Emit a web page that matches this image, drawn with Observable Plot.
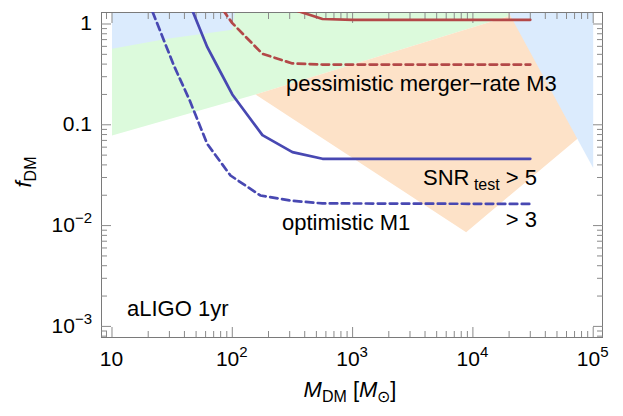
<!DOCTYPE html>
<html><head><meta charset="utf-8">
<script src="https://cdn.jsdelivr.net/npm/d3@7"></script>
<script src="https://cdn.jsdelivr.net/npm/@observablehq/plot@0.6"></script>
<style>body{margin:0;background:#fff} svg{display:block}</style>
</head><body><div id="chart"></div>
<script>
// ---- data ----
const blueSolidM = [40, 62, 75, 100, 178, 316, 562, 1000, 30000];
const blueSolidF = [2.12, 0.589, 0.383, 0.2, 0.079, 0.0535, 0.046, 0.046, 0.046];
const blueDashM = [20, 32.6, 44.3, 61.8, 96.6, 171, 305, 562, 30000];
const blueDashF = [1.7, 0.39, 0.174, 0.0648, 0.0314, 0.0199, 0.0177, 0.0166, 0.0164];
const redSolidM = [316, 562, 1000, 30000];
const redSolidF = [1.40, 1.12, 1.10, 1.10];
const redDashM = [56, 100, 178, 316, 562, 30000];
const redDashF = [2.7, 1.02, 0.506, 0.406, 0.396, 0.396];

const blueBandM = [10, 10, 28.8, 100, 105];
const blueBandF = [1.30, 0.568, 0.713, 0.876, 1.30];
const greenM = [10, 10, 156, 19800, 19800];
const greenF = [1.30, 0.0783, 0.2, 1.19, 1.30];
const orangeM = [156, 19800, 19800, 30000, 74000, 8790];
const orangeF = [0.2, 1.19, 1.30, 1.30, 0.0728, 0.0086];
const blueTriM = [19800, 1e5, 1e5];
const blueTriF = [1.30, 1.30, 0.0372];

const majorX = [10, 100, 1000, 1e4, 1e5];
const xTickBase = ["10", "10", "10", "10", "10"];
const xTickExp = ["", "2", "3", "4", "5"];
const majorY = [1e-3, 1e-2, 0.1, 1];
const yTickBase = ["10", "10", "0.1", "1"];
const yTickExp = ["\u22123", "\u22122", "", ""];
const minorX = [9];
for (const d of [10, 100, 1000, 10000]) for (let k = 2; k <= 9; k++) minorX.push(k * d);
const minorY = [8e-4, 9e-4];
for (const d of [1e-3, 1e-2, 0.1]) for (let k = 2; k <= 9; k++) minorY.push(+(k * d).toPrecision(3));

// ---- colours ----
const C = {blueLine: "#4848b2", redLine: "#b34848", band: "#dbebfd", green: "#dcfadc", orange: "#fde2c8", frame: "#7a7a7a", tick: "#8a8a8a"};
const FONT = "'Liberation Sans', Arial, sans-serif";

const rows = (M, F) => M.map((m, i) => ({m, f: F[i]}));
const poly = (M, F, fill) => Plot.line(rows(M, F), {x: "m", y: "f", fill, stroke: "none", clip: true});
const curve = (M, F, stroke, dash) => Plot.line(rows(M, F), {x: "m", y: "f", stroke, strokeWidth: 2.7, strokeDasharray: dash, clip: true});

const axes = [];
for (const anchor of ["bottom", "top"]) {
  axes.push(Plot.axisX({anchor, ticks: majorX, tickSize: -10, tickFormat: () => "", stroke: C.tick, label: null}));
  axes.push(Plot.axisX({anchor, ticks: minorX, tickSize: -6, tickFormat: () => "", stroke: C.tick, label: null}));
}
for (const anchor of ["left", "right"]) {
  axes.push(Plot.axisY({anchor, ticks: majorY, tickSize: -10, tickFormat: () => "", stroke: C.tick, label: null}));
  axes.push(Plot.axisY({anchor, ticks: minorY, tickSize: -6, tickFormat: () => "", stroke: C.tick, label: null}));
}

const plot = Plot.plot({
  width: 623, height: 416,
  marginLeft: 101, marginRight: 21, marginTop: 12, marginBottom: 79,
  x: {type: "log", domain: [8.18, 1.195e5]},
  y: {type: "log", domain: [7.76e-4, 1.30]},
  style: {fontFamily: FONT, background: "white"},
  marks: [
    poly(greenM, greenF, C.green),
    poly(blueBandM, blueBandF, C.band),
    poly(orangeM, orangeF, C.orange),
    poly(blueTriM, blueTriF, C.band),
    Plot.frame({stroke: C.frame}),
    ...axes,
    curve(redSolidM, redSolidF, C.redLine, null),
    curve(redDashM, redDashF, C.redLine, "7.5,4.5"),
    curve(blueSolidM, blueSolidF, C.blueLine, null),
    curve(blueDashM, blueDashF, C.blueLine, "7.5,4.5")
  ]
});
document.getElementById("chart").appendChild(plot);

// ---- rich text (sub/superscripts) placed through the plot's scales ----
const sx = plot.scale("x"), sy = plot.scale("y");
const svg = d3.select(plot);
function rich(x, y, parts, {anchor = "start", size = 22, small = 16, rotate = 0} = {}) {
  const t = svg.append("text").attr("x", x).attr("y", y).attr("text-anchor", anchor)
    .attr("font-family", FONT).attr("font-size", size).attr("fill", "#000");
  if (rotate) t.attr("transform", `rotate(${rotate},${x},${y})`);
  let off = 0;
  for (const p of parts) {
    if (!p.t) continue;
    const target = p.sub ? 5 : p.sup ? -9 : 0;
    const s = t.append("tspan").text(p.t).attr("dy", target - off);
    if (p.sub || p.sup) s.attr("font-size", small);
    if (p.italic) s.attr("font-style", "italic");
    off = target;
  }
  return t;
}
// x tick labels
majorX.forEach((v, i) => rich(sx.apply(v), 366, [{t: xTickBase[i]}, {t: xTickExp[i], sup: true}], {anchor: "middle", size: 21, small: 15}));
// y tick labels
majorY.forEach((v, i) => rich(92, sy.apply(v) + 7, [{t: yTickBase[i]}, {t: yTickExp[i], sup: true}], {anchor: "end", size: 21, small: 15}));
// axis titles
rich(350, 397, [{t: "M", italic: true}, {t: "DM", sub: true}, {t: " ["}, {t: "M", italic: true}, {t: "\u2299", sub: true}, {t: "]"}], {anchor: "middle", size: 22, small: 16});
rich(31, 172, [{t: "f", italic: true}, {t: "DM", sub: true}], {anchor: "middle", size: 22, small: 16, rotate: -90});
// annotations
rich(286, 91, [{t: "pessimistic merger\u2212rate M3"}], {size: 22});
rich(537, 185, [{t: "SNR"}, {t: " test", sub: true}, {t: " > 5"}], {anchor: "end", size: 22, small: 16});
rich(537, 227, [{t: "> 3"}], {anchor: "end", size: 22});
rich(282, 230, [{t: "optimistic M1"}], {size: 22});
rich(127, 316, [{t: "aLIGO 1yr"}], {size: 22});
</script>
</body></html>
